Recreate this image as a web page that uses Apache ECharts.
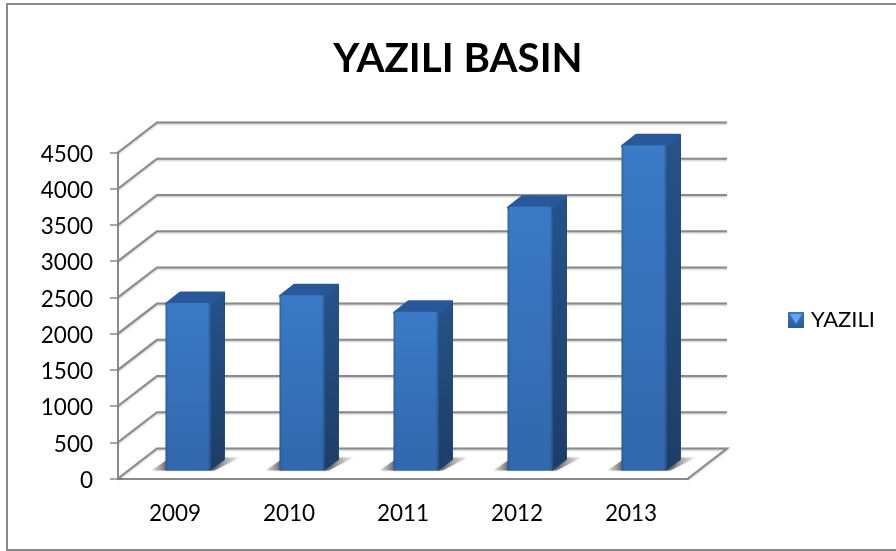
<!DOCTYPE html>
<html>
<head>
    <meta charset="utf-8">
    <title>YAZILI BASIN</title>
    <script src="https://cdn.jsdelivr.net/npm/echarts@6/dist/echarts.min.js"></script>
    <style>
        html, body { margin: 0; padding: 0; background: #fff; }
    </style>
</head>
<body>
<div id="main" style="width:896px;height:551px;"></div>
<script type="text/javascript">
    var years = ['2009', '2010', '2011', '2012', '2013'];
    var yazili = [2313, 2420, 2190, 3640, 4490];
    var yTicks = [0, 500, 1000, 1500, 2000, 2500, 3000, 3500, 4000, 4500];

    var FONT = 'Lato, "Open Sans", sans-serif';
    var GRID_COLOR = '#8a8a8a';
    // kabinet derinligi (3B gorunum)
    var WALL_DX = 39, WALL_DY = -30;
    var BAR_DX = 14, BAR_DY = -11;
    var BAR_W = 45, BAR_SHIFT_X = 13, BAR_SHIFT_Y = -8;

    var myChart = echarts.init(document.getElementById('main'));

    // duvar ve taban cizgileri
    function renderWall(params, api) {
        var cs = params.coordSys;
        var y = api.coord([0, api.value(0)])[1];
        var left = cs.x, right = cs.x + cs.width;
        var points = [[left, y], [left + WALL_DX, y + WALL_DY], [right + WALL_DX, y + WALL_DY]];
        if (api.value(0) === 0) {
            points.push([right, y]);
        }
        return {
            type: 'polyline',
            shape: { points: points },
            style: {
                fill: null, stroke: GRID_COLOR, lineWidth: 2,
                shadowColor: 'rgba(0,0,0,0.25)', shadowBlur: 2, shadowOffsetY: 1
            }
        };
    }

    function renderBar(params, api) {
        var top = api.coord([api.value(0), api.value(1)]);
        var base = api.coord([api.value(0), 0]);
        var x0 = top[0] + BAR_SHIFT_X - BAR_W / 2;
        var x1 = x0 + BAR_W;
        var yTop = top[1] + BAR_SHIFT_Y;
        var yBase = base[1] + BAR_SHIFT_Y;
        return {
            type: 'group',
            children: [
                { // taban golgesi
                    type: 'polygon',
                    shape: { points: [[x0 - 14, yBase], [x1 + 4, yBase], [x1 + 29, yBase - 13], [x0 + 5, yBase - 13]] },
                    style: {
                        fill: new echarts.graphic.LinearGradient(0, 0, 1, 0, [
                            { offset: 0, color: 'rgba(170,170,170,0.3)' },
                            { offset: 0.16, color: 'rgba(100,100,100,0.9)' },
                            { offset: 0.75, color: 'rgba(100,100,100,0.85)' },
                            { offset: 1, color: 'rgba(200,200,200,0.25)' }
                        ]),
                        shadowColor: 'rgba(150,150,150,0.5)', shadowBlur: 3
                    }
                },
                { // yan yuz
                    type: 'polygon',
                    shape: { points: [[x1, yTop], [x1 + BAR_DX, yTop + BAR_DY], [x1 + BAR_DX, yBase + BAR_DY], [x1, yBase]] },
                    style: {
                        fill: new echarts.graphic.LinearGradient(0, 0, 0, 1, [
                            { offset: 0, color: '#25538a' },
                            { offset: 1, color: '#1d3d66' }
                        ]),
                        stroke: '#234c7e', lineWidth: 1, lineJoin: 'round'
                    }
                },
                { // ust yuz
                    type: 'polygon',
                    shape: { points: [[x0 + 1, yTop + 1], [x0 + BAR_DX + 1, yTop + BAR_DY + 1], [x1 + BAR_DX - 1, yTop + BAR_DY + 1], [x1 - 1, yTop + 1]] },
                    style: { fill: '#28589a', stroke: '#28589a', lineWidth: 3, lineJoin: 'round' }
                },
                { // on yuz
                    type: 'rect',
                    shape: { x: x0, y: yTop, width: BAR_W, height: yBase - yTop, r: [3, 3, 0, 0] },
                    style: {
                        fill: new echarts.graphic.LinearGradient(0, 0, 1, 0, [
                            { offset: 0, color: '#2f63a3' },
                            { offset: 0.06, color: '#3a7ac6' },
                            { offset: 0.93, color: '#3a7ac6' },
                            { offset: 1, color: '#2d5f9e' }
                        ])
                    }
                },
                { // asagi dogru koyulasma
                    type: 'rect',
                    shape: { x: x0, y: yTop, width: BAR_W, height: yBase - yTop, r: [3, 3, 0, 0] },
                    style: {
                        fill: new echarts.graphic.LinearGradient(0, 0, 0, 1, [
                            { offset: 0, color: 'rgba(30,60,110,0)' },
                            { offset: 1, color: 'rgba(30,60,110,0.3)' }
                        ])
                    }
                }
            ]
        };
    }

    myChart.setOption({
        animation: false,
        backgroundColor: '#fff',
        title: {
            text: 'YAZILI BASIN',
            left: 453,
            top: 34,
            textAlign: 'center',
            textStyle: { color: '#000', fontFamily: FONT, fontWeight: 'bold', fontSize: 40.3 }
        },
        legend: {
            data: ['YAZILI'],
            left: 788,
            top: 309,
            padding: 0,
            itemWidth: 16,
            itemHeight: 16,
            icon: 'rect',
            itemStyle: {
                color: new echarts.graphic.LinearGradient(0, 0, 0, 1, [
                    { offset: 0, color: '#3a7ac6' },
                    { offset: 1, color: '#2a5a96' }
                ])
            },
            textStyle: { color: '#000', fontFamily: FONT, fontSize: 22, padding: [0, 0, 0, 2] }
        },
        grid: { left: 118, right: 208, top: 152.5, bottom: 72.5 },
        xAxis: {
            type: 'category',
            data: years,
            axisLine: { lineStyle: { color: GRID_COLOR, width: 2 } },
            axisTick: { length: 8, lineStyle: { color: GRID_COLOR, width: 1.5 } },
            axisLabel: { color: '#000', fontFamily: FONT, fontSize: 22.5, margin: 24 }
        },
        yAxis: {
            type: 'value',
            min: 0,
            max: 4500,
            interval: 500,
            splitLine: { show: false },
            axisLine: { show: true, lineStyle: { color: GRID_COLOR, width: 2 } },
            axisTick: { show: true, length: 8, lineStyle: { color: GRID_COLOR, width: 1.5 } },
            axisLabel: {
                color: '#000', fontFamily: FONT, fontSize: 22.5, margin: 25,
                // etiketleri tik cizgisinin 2px altina almak icin
                verticalAlign: 'top',
                lineHeight: 4,
                formatter: function (v) { return String(v); }
            }
        },
        series: [
            {
                name: 'wall',
                type: 'custom',
                renderItem: renderWall,
                data: yTicks.map(function (v) { return [v]; }),
                encode: { y: 0 },
                silent: true,
                z: 1
            },
            {
                name: 'YAZILI',
                type: 'custom',
                renderItem: renderBar,
                data: years.map(function (y, i) { return [i, yazili[i]]; }),
                encode: { x: 0, y: 1 },
                z: 3
            }
        ],
        graphic: [
            { // dis cerceve, sag kenar kadrajin disinda kaliyor
                type: 'rect',
                z: -1,
                shape: { x: 7, y: 4, width: 920, height: 546 },
                style: { fill: null, stroke: '#8a8a8a', lineWidth: 2 }
            },
            { // lejant isaretindeki acik ucgen
                type: 'polygon',
                z: 10,
                shape: { points: [[790, 314], [802, 314], [796, 324]] },
                style: { fill: '#5fa6ea' }
            }
        ]
    });
</script>
</body>
</html>
